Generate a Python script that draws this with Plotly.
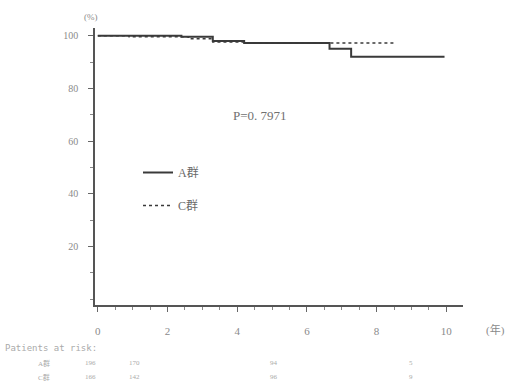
import plotly.graph_objects as go

# Kaplan-Meier step data (years, %)
a_time = [0, 2.4, 3.3, 4.2, 6.65, 7.27, 9.95]
a_surv = [100, 99.6, 98.0, 97.2, 95.0, 92.0, 92.0]
c_time = [0, 0.9, 2.6, 3.3, 4.2, 8.55]
c_surv = [100, 99.6, 98.8, 97.6, 97.2, 97.2]

series_names = ["A群", "C群"]
p_text = "P=0. 7971"

x_ticks = [0, 2, 4, 6, 8, 10]
y_ticks = [20, 40, 60, 80, 100]

risk_times = [-0.2, 1.05, 5.05, 9.0]
risk_a = ["196", "170", "94", "5"]
risk_c = ["166", "142", "96", "9"]

serif = "Liberation Serif, Noto Sans CJK JP"
grey = "#8a8a8a"
line_col = "#3a3a3a"

X0, X1 = -0.08, 10.48
L, R, T, B = 95, 49, 28, 79
PW, PH = 512 - L - R, 384 - T - B


def xd(px):
    return (px - L) / PW


def yd(py):
    return (384 - B - py) / PH


fig = go.Figure()
fig.add_trace(go.Scatter(x=a_time, y=a_surv, mode="lines", line_shape="hv", legendgroup="a",
                         line=dict(color=line_col, width=2), name=series_names[0]))
fig.add_trace(go.Scatter(x=c_time, y=c_surv, mode="lines", line_shape="hv", legendgroup="c",
                         line=dict(color=line_col, width=1.5, dash="dot"), name=series_names[1]))

fig.update_layout(
    width=512, height=384,
    margin=dict(l=L, r=R, t=T, b=B, autoexpand=False),
    paper_bgcolor="white", plot_bgcolor="white",
    font=dict(family=serif, color=grey, size=11),
    legend=dict(x=xd(138), y=yd(158), xanchor="left", yanchor="top",
                font=dict(size=12, color="#6a6a6a"), tracegroupgap=14,
                itemwidth=30, bgcolor="rgba(0,0,0,0)"),
    xaxis=dict(range=[X0, X1], tickvals=x_ticks, showgrid=False, zeroline=False,
               showline=True, linecolor="#555", linewidth=1.5, automargin=False,
               ticks="outside", ticklen=5, tickcolor="#666",
               ticklabelstandoff=10,
               minor=dict(dtick=0.5, ticks="outside", ticklen=3, tickcolor="#888"),
               tickfont=dict(size=11, color=grey)),
    yaxis=dict(range=[-2.2, 102.9], tickvals=y_ticks, showgrid=False, zeroline=False,
               showline=True, linecolor="#555", linewidth=1.5, automargin=False,
               ticks="outside", ticklen=5, tickcolor="#666",
               ticklabelstandoff=8,
               minor=dict(tick0=0, dtick=10, ticks="outside", ticklen=3, tickcolor="#888"),
               tickfont=dict(size=10, color=grey)),
)


def note(text, px, py, size, color, family=None):
    f = dict(size=size, color=color)
    if family:
        f["family"] = family
    fig.add_annotation(x=xd(px), y=yd(py), xref="paper", yref="paper", text=text,
                       showarrow=False, xanchor="left", yanchor="middle", font=f)


note(p_text, 231, 115, 13, "#707070")
note("(年)", 484, 330, 11, grey)
note("(%)", 82, 17, 9, grey)
note("Patients at risk:", 3, 348, 9, "#aaaaaa", "DejaVu Sans Mono")
for label, vals, py in [(series_names[0], risk_a, 363), (series_names[1], risk_c, 377)]:
    note(label, 36, py, 7, "#aaaaaa")
    for t, v in zip(risk_times, vals):
        fig.add_annotation(x=(t - X0) / (X1 - X0), y=yd(py), xref="paper", yref="paper",
                           text=v, showarrow=False, xanchor="center", yanchor="middle",
                           font=dict(size=7, color="#aaaaaa"))

fig.write_html("out.html", config={"displayModeBar": False},
               post_script="document.body.style.margin='0';")
